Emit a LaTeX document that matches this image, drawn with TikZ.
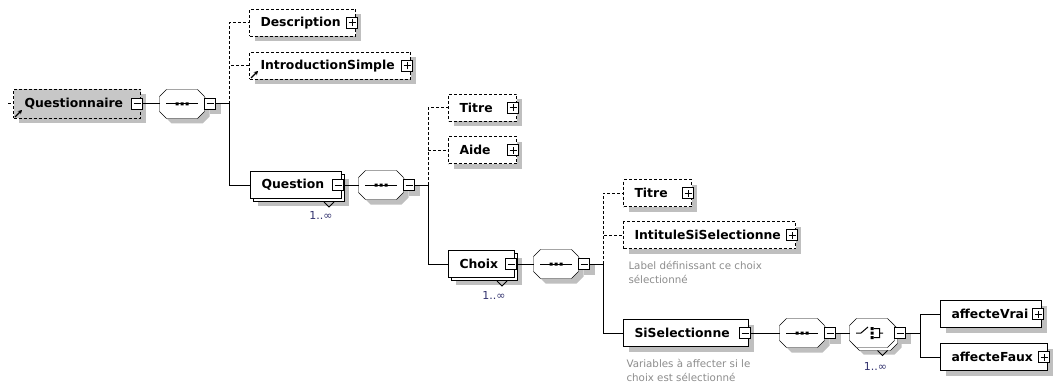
\documentclass[tikz,border=0pt]{standalone}
\usepackage{fontspec}
\setsansfont{DejaVu Sans}
\usetikzlibrary{calc,positioning,arrows.meta,shadows,backgrounds}
\definecolor{multblue}{RGB}{50,50,110}

\begin{document}
\begin{tikzpicture}[
    x=1pt, y=-1pt,
    line width=1pt,
    font=\sffamily,
    optline/.style={dash pattern=on 3pt off 2pt},
    boxshadow/.style={drop shadow={shadow xshift=5pt, shadow yshift=-5pt, fill=black!25, opacity=1}},
    stackshadow/.style={drop shadow={shadow xshift=7pt, shadow yshift=-7pt, fill=black!25, opacity=1},
        copy shadow={shadow xshift=3pt, shadow yshift=-3pt, draw=black, fill=white, opacity=1, line width=1pt}},
    elembase/.style={draw, fill=white, anchor=west, minimum height=27pt, inner xsep=11pt, inner ysep=0pt,
        text width=#1, align=left, font=\sffamily\bfseries\fontsize{12.4}{14}\selectfont},
    elem/.style={elembase=#1, boxshadow},
    optelem/.style={elem=#1, optline},
    multielem/.style={elembase=#1, stackshadow},
    rootelem/.style={optelem=#1, fill=black!22, minimum height=29pt},
    toggle/.style={draw, fill=white, minimum size=11pt, inner sep=0pt, line width=1pt},
    collapse/.style={toggle, path picture={
        \draw ([xshift=2pt]path picture bounding box.west) -- ([xshift=-2pt]path picture bounding box.east);}},
    expand/.style={toggle, path picture={
        \draw ([xshift=2pt]path picture bounding box.west) -- ([xshift=-2pt]path picture bounding box.east);
        \draw ([yshift=2pt]path picture bounding box.south) -- ([yshift=-2pt]path picture bounding box.north);}},
    compositor/.style={rectangle, minimum width=44pt, minimum height=28pt, inner sep=0pt},
    octagonpath/.style={insert path={
        ([xshift=7pt]#1.north west) -- ([xshift=-7pt]#1.north east) -- ([yshift=-7pt]#1.north east)
        -- ([yshift=7pt]#1.south east) -- ([xshift=-7pt]#1.south east) -- ([xshift=7pt]#1.south west)
        -- ([yshift=7pt]#1.south west) -- ([yshift=-7pt]#1.north west) -- cycle}},
    mult/.style={font=\sffamily\fontsize{11}{13}\selectfont, text=multblue, inner sep=0pt},
    anno/.style={font=\sffamily\fontsize{10.3}{14}\selectfont, text=black!45, align=left, anchor=north west, inner sep=0pt},
    refmark/.style={-{Stealth[length=4pt,width=4.5pt]}, line width=1.3pt}
]

\useasboundingbox (0,0) rectangle (1054,385);

% Root element
\coordinate (rootin) at (8,104);
\node[rootelem=105pt] (questionnaire) at (13,104) {Questionnaire};
\node[collapse] (questionnairetog) at ($(questionnaire.east)+(-4,0)$) {};
\node[compositor] (seqroot) at (182,104) {};
\node[collapse, boxshadow] (seqroottog) at ($(seqroot.east)+(5.5,0)$) {};
\coordinate (bus1) at (229,104);

% Children of Questionnaire
\node[optelem=84pt] (description) at (249,23) {Description};
\node[expand] (descriptiontog) at ($(description.east)+(-4,0)$) {};
\node[optelem=139pt] (introsimple) at (249,66) {IntroductionSimple};
\node[expand] (introsimpletog) at ($(introsimple.east)+(-4,0)$) {};
\node[multielem=69pt] (question) at (250,185) {Question};
\node[collapse] (questiontog) at ($(question.east)+(-4,0)$) {};

% Question content
\node[compositor] (seqquestion) at (381,185) {};
\node[collapse, boxshadow] (seqquestiontog) at ($(seqquestion.east)+(5.5,0)$) {};
\coordinate (bus2) at (428,185);
\node[optelem=46pt] (titre) at (448,108) {Titre};
\node[expand] (titretog) at ($(titre.east)+(-4,0)$) {};
\node[optelem=46pt] (aide) at (448,150) {Aide};
\node[expand] (aidetog) at ($(aide.east)+(-4,0)$) {};
\node[multielem=44pt] (choix) at (448,264) {Choix};
\node[collapse] (choixtog) at ($(choix.east)+(-4,0)$) {};

% Choix content
\node[compositor] (seqchoix) at (556,264) {};
\node[collapse, boxshadow] (seqchoixtog) at ($(seqchoix.east)+(5.5,0)$) {};
\coordinate (bus3) at (603,264);
\node[optelem=46pt] (titrechoix) at (623,193) {Titre};
\node[expand] (titrechoixtog) at ($(titrechoix.east)+(-4,0)$) {};
\node[optelem=150pt] (intitule) at (623,235) {IntituleSiSelectionne};
\node[expand] (intituletog) at ($(intitule.east)+(-4,0)$) {};
\node[elem=103pt] (siselection) at (623,333) {SiSelectionne};
\node[collapse] (siselectiontog) at ($(siselection.east)+(-4,0)$) {};

% SiSelectionne content
\node[compositor] (seqsi) at (802,333) {};
\node[collapse, boxshadow] (seqsitog) at ($(seqsi.east)+(5.5,0)$) {};
\node[compositor] (choicesi) at (872,333) {};
\node[collapse, boxshadow] (choicesitog) at ($(choicesi.east)+(5.5,0)$) {};
\coordinate (bus4) at (920,333);
\node[elem=79pt] (affectevrai) at (940,314) {affecteVrai};
\node[expand] (affectevraitog) at ($(affectevrai.east)+(-4,0)$) {};
\node[elem=85pt] (affectefaux) at (940,357) {affecteFaux};
\node[expand] (affectefauxtog) at ($(affectefaux.east)+(-4,0)$) {};

% Compositor outlines, behind the rest
\begin{scope}[on background layer]
    \fill[black!25, transform canvas={xshift=7pt, yshift=-7pt}, octagonpath=choicesi];
    \draw[fill=white, transform canvas={xshift=3pt, yshift=-3pt}, octagonpath=choicesi];
    \foreach \c in {seqroot, seqquestion, seqchoix, seqsi}
        \fill[black!25, transform canvas={xshift=5pt, yshift=-5pt}, octagonpath=\c];
    \foreach \c in {seqroot, seqquestion, seqchoix, seqsi, choicesi}
        \draw[fill=white, octagonpath=\c];
\end{scope}

% Sequence marks
\foreach \c in {seqroot, seqquestion, seqchoix, seqsi} {
    \draw[shift={(\c.center)}] (-16,0) -- (16,0);
    \fill[shift={(\c.center)}] (-6.5,-1.5) rectangle (-3.5,1.5) (-1.5,-1.5) rectangle (1.5,1.5) (3.5,-1.5) rectangle (6.5,1.5);
}
% Choice mark
\draw[shift={(choicesi.center)}] (-16,0) -- (-11,0) -- (-4,-6)
    (1.5,-4.5) -- (7.5,-4.5) -- (7.5,4.5) -- (1.5,4.5) (7.5,0) -- (11,0);
\fill[shift={(choicesi.center)}] (-1.5,-6) rectangle (1.5,-3) (-1.5,-1.5) rectangle (1.5,1.5) (-1.5,3) rectangle (1.5,6);

% Reference markers
\draw[refmark] ($(questionnaire.south west)+(2,-2)$) -- ++(7,-7);
\draw[refmark] ($(introsimple.south west)+(2,-2)$) -- ++(7,-7);

% Occurrence marks
\draw ($(question.south east)+(-18,3)$) -- ++(5,5) -- ++(5,-5);
\node[mult] (questionmult) at ($(question.south east)+(-21,16)$) {1..∞};
\draw ($(choix.south east)+(-18,3)$) -- ++(5,5) -- ++(5,-5);
\node[mult] (choixmult) at ($(choix.south east)+(-21,17)$) {1..∞};
\draw ($(choicesi.south east)+(-17,3)$) -- ++(5,5) -- ++(5,-5);
\node[mult] (choicesimult) at ($(choicesi.south east)+(-19,19)$) {1..∞};

% Annotations
\node[anno] (intituledoc) at ($(intitule.south west)+(5,12)$) {Label définissant ce choix\\sélectionné};
\node[anno] (siselectiondoc) at ($(siselection.south west)+(3,12)$) {Variables à affecter si le\\choix est sélectionné};

% Connections
\draw[optline] (rootin) -- (questionnaire);
\draw (questionnairetog) -- (seqroot);
\draw (seqroottog) -- (bus1);
\draw[optline] (bus1) |- (description);
\draw[optline] (bus1) |- (introsimple);
\draw (bus1) |- (question);

\draw (questiontog) -- (seqquestion);
\draw (seqquestiontog) -- (bus2);
\draw[optline] (bus2) |- (titre);
\draw[optline] (bus2) |- (aide);
\draw (bus2) |- (choix);

\draw (choixtog) -- (seqchoix);
\draw (seqchoixtog) -- (bus3);
\draw[optline] (bus3) |- (titrechoix);
\draw[optline] (bus3) |- (intitule);
\draw (bus3) |- (siselection);

\draw (siselectiontog) -- (seqsi);
\draw (seqsitog) -- (choicesi);
\draw (choicesitog) -- (bus4);
\draw (bus4) |- (affectevrai);
\draw (bus4) |- (affectefaux);

\end{tikzpicture}
\end{document}
